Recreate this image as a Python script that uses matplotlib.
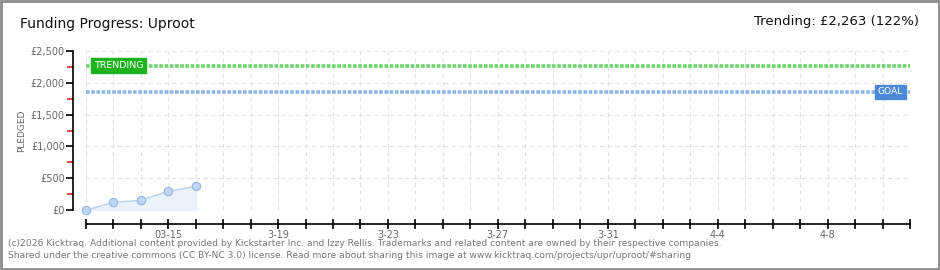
import matplotlib
matplotlib.use('Agg')
import matplotlib.pyplot as plt
import matplotlib.dates as mdates
from matplotlib.patches import Rectangle
import pandas as pd

plt.rcParams['font.family'] = ['DejaVu Sans']

# data
dates = pd.to_datetime(['2026-03-12', '2026-03-13', '2026-03-14', '2026-03-15', '2026-03-16'])
pledged = [0, 125, 156, 297, 375]
trending = 2263
goal = 1855
start = pd.Timestamp('2026-03-12')
end = pd.Timestamp('2026-04-11')
label_dates = pd.to_datetime(['2026-03-15', '2026-03-19', '2026-03-23', '2026-03-27',
                              '2026-03-31', '2026-04-04', '2026-04-08'])
label_text = ['03-15', '3-19', '3-23', '3-27', '3-31', '4-4', '4-8']
y_major = [0, 500, 1000, 1500, 2000, 2500]
y_minor = [250, 750, 1250, 1750, 2250]
y_labels = ['£0', '£500', '£1,000', '£1,500', '£2,000', '£2,500']

fig = plt.figure(figsize=(9.4, 2.7), dpi=100)
ax = fig.add_axes([85.7 / 940, 1 - 210.3 / 270, (910 - 85.7) / 940, (210.3 - 50.7) / 270])

xs = mdates.date2num(dates)
x0, x1 = mdates.date2num(start), mdates.date2num(end)
ax.set_xlim(x0, x1)
ax.set_ylim(0, 2500)

# grid
all_days = mdates.date2num(pd.date_range(start, end, freq='D'))
for d in all_days:
    ax.axvline(d, color='#e2e2e2', lw=0.8, ls=(0, (4, 3)), zorder=0)
for v in y_major:
    ax.axhline(v, color='#e2e2e2', lw=0.8, ls=(0, (4, 3)), zorder=0)

# trend and goal lines
ax.axhline(trending, color='#6ad66a', lw=2.6, ls=(0, (1, 0.45)), zorder=2)
ax.axhline(goal, color='#8db6e6', lw=2.6, ls=(0, (1, 0.45)), zorder=2)

# pledged series
ax.fill_between(xs, pledged, 0, color='#eaf2fc', zorder=1)
ax.plot(xs, pledged, color='#b8d3f2', lw=1, zorder=3)
ax.plot(xs, pledged, 'o', ms=6, mfc='#bed7f6', mec='#94b5de', mew=0.8, zorder=4, clip_on=False)

# badges
ax.text(x0 + 0.3, trending, 'TRENDING',
        color='white', fontsize=6.8, va='center', ha='left', zorder=5,
        bbox=dict(boxstyle='square,pad=0.3', fc='#1db31d', ec='#1db31d'))
ax.text(x1 - 0.25, goal, 'GOAL', color='white', fontsize=6.6, va='center', ha='right', zorder=5,
        bbox=dict(boxstyle='square,pad=0.3', fc='#4a8ad8', ec='#4a8ad8'))

# axes styling
for s in ['top', 'right']:
    ax.spines[s].set_visible(False)
ax.spines['left'].set_position(('outward', 9))
ax.spines['bottom'].set_position(('outward', 10))
ax.spines['bottom'].set_bounds(x0, x1)
ax.spines['left'].set_bounds(0, 2500)
ax.spines['left'].set_linewidth(1.2)
ax.spines['bottom'].set_linewidth(1.2)

ax.set_yticks(y_major)
ax.set_yticklabels(y_labels)
ax.set_yticks(y_minor, minor=True)
ax.tick_params(axis='y', which='major', length=5, width=1.2, colors='black',
               labelcolor='#666666', labelsize=7, pad=1)
ax.tick_params(axis='y', which='minor', length=4, width=1.2, colors='#ee2222')

lbl_map = dict(zip(mdates.date2num(label_dates), label_text))
ax.set_xticks(all_days)
ax.set_xticklabels([lbl_map.get(d, '') for d in all_days])
ax.tick_params(axis='x', which='major', direction='inout', length=7, width=1.2,
               colors='black', labelcolor='#666666', labelsize=7, pad=0.5)

ax.set_ylabel('PLEDGED', color='#666666', fontsize=6.5)
ax.yaxis.set_label_coords(-0.072, 0.5)

# titles and footer
fig.text(20 / 940, 1 - 24 / 270, 'Funding Progress: Uproot', fontsize=10, color='#111111',
         va='center', ha='left')
fig.text(919 / 940, 1 - 22 / 270, 'Trending: £2,263 (122%)', fontsize=9.5, color='#111111',
         va='center', ha='right')
fig.text(8 / 940, 1 - 243 / 270,
         '(c)2026 Kicktraq. Additional content provided by Kickstarter Inc. and Izzy Rellis. '
         'Trademarks and related content are owned by their respective companies.',
         fontsize=6.6, color='#777777', va='center', ha='left')
fig.text(8 / 940, 1 - 256 / 270,
         'Shared under the creative commons (CC BY-NC 3.0) license. Read more about sharing this '
         'image at www.kicktraq.com/projects/upr/uproot/#sharing',
         fontsize=6.6, color='#777777', va='center', ha='left')

# frame
fig.patches.append(Rectangle((0.001, 0.002), 0.998, 0.996, transform=fig.transFigure,
                             fill=False, ec='#8a8a8a', lw=2))

fig.savefig('out.png', dpi=100)
